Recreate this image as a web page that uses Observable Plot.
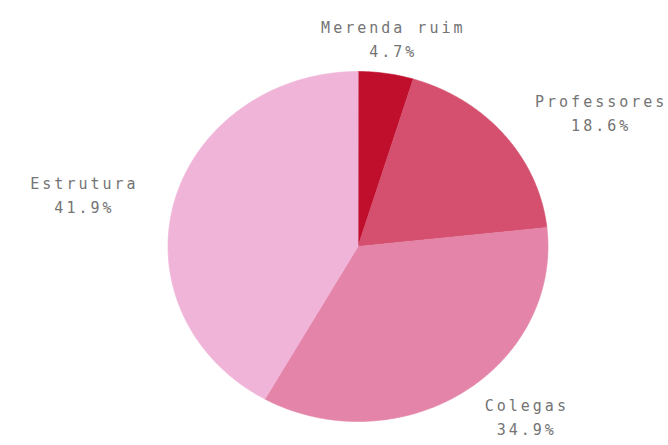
<!DOCTYPE html>
<html>
<head>
<meta charset="utf-8">
<script src="https://cdn.jsdelivr.net/npm/d3@7"></script>
<script src="https://cdn.jsdelivr.net/npm/@observablehq/plot@0.6"></script>
<style>
  html, body { margin: 0; padding: 0; background: #ffffff; }
</style>
</head>
<body>
<div id="chart"></div>
<script>
const categories = ["Merenda ruim", "Professores", "Colegas", "Estrutura"];
const values = [4.7, 18.6, 34.9, 41.9];
const colors = ["#bf0f2d", "#d4506e", "#e484a8", "#f0b4d8"];

const rows = categories.map((label, i) => ({label, value: values[i]}));
const arcs = d3.pie().sort(null).value(d => d.value)(rows);

// layout constants (pixels)
const W = 668, H = 445;
const cx = 357.5, cy = 246, rx = 190, ry = 175;
const fontSize = 15, letterSpacing = 3, charAdvance = fontSize * 0.602 + letterSpacing;
const lineHeight = 1.6;

// slice outlines in unit-circle coordinates (geometry of each arc)
const pts = [];
for (const a of arcs) {
  pts.push({label: a.data.label, u: 0, v: 0});
  const steps = Math.max(8, Math.ceil((a.endAngle - a.startAngle) / 0.01));
  for (let s = 0; s <= steps; s++) {
    const t = a.startAngle + (a.endAngle - a.startAngle) * s / steps;
    pts.push({label: a.data.label, u: Math.sin(t), v: Math.cos(t)});
  }
}

const k = 1.21;
// keep the two-line label block inside the canvas
const maxV = (cy - (H - 6 - fontSize * lineHeight)) / ry;
const labelRows = arcs.map(a => {
  const m = (a.startAngle + a.endAngle) / 2;
  const sx = Math.sin(m);
  const pct = `${a.data.value.toFixed(1)}%`;
  const n = Math.max(a.data.label.length, pct.length);
  const halfW = (n * charAdvance - letterSpacing) / 2 / rx;
  const side = sx > 0.3 ? 1 : sx < -0.3 ? -1 : 0;
  return {
    text: `${a.data.label}\n${pct}`,
    u: k * sx + side * halfW,
    v: Math.max(k * Math.cos(m), maxV)
  };
});

const chart = Plot.plot({
  width: W,
  height: H,
  margin: 0,
  style: {background: "#ffffff", letterSpacing: `${letterSpacing}px`, fontFamily: "DejaVu Sans Mono"},
  x: {domain: [-1, 1], range: [cx - rx, cx + rx], axis: null},
  y: {domain: [-1, 1], range: [cy + ry, cy - ry], axis: null},
  color: {domain: categories, range: colors},
  marks: [
    Plot.line(pts, {x: "u", y: "v", z: "label", fill: "label", stroke: "label", strokeWidth: 0.6, curve: "linear-closed"}),
    Plot.text(labelRows, {
      x: "u", y: "v", text: "text",
      dx: letterSpacing / 2,
      fill: "#747474",
      fontSize,
      fontFamily: "DejaVu Sans Mono",
      lineHeight,
      textAnchor: "middle"
    })
  ]
});

document.getElementById("chart").appendChild(chart);
</script>
</body>
</html>
